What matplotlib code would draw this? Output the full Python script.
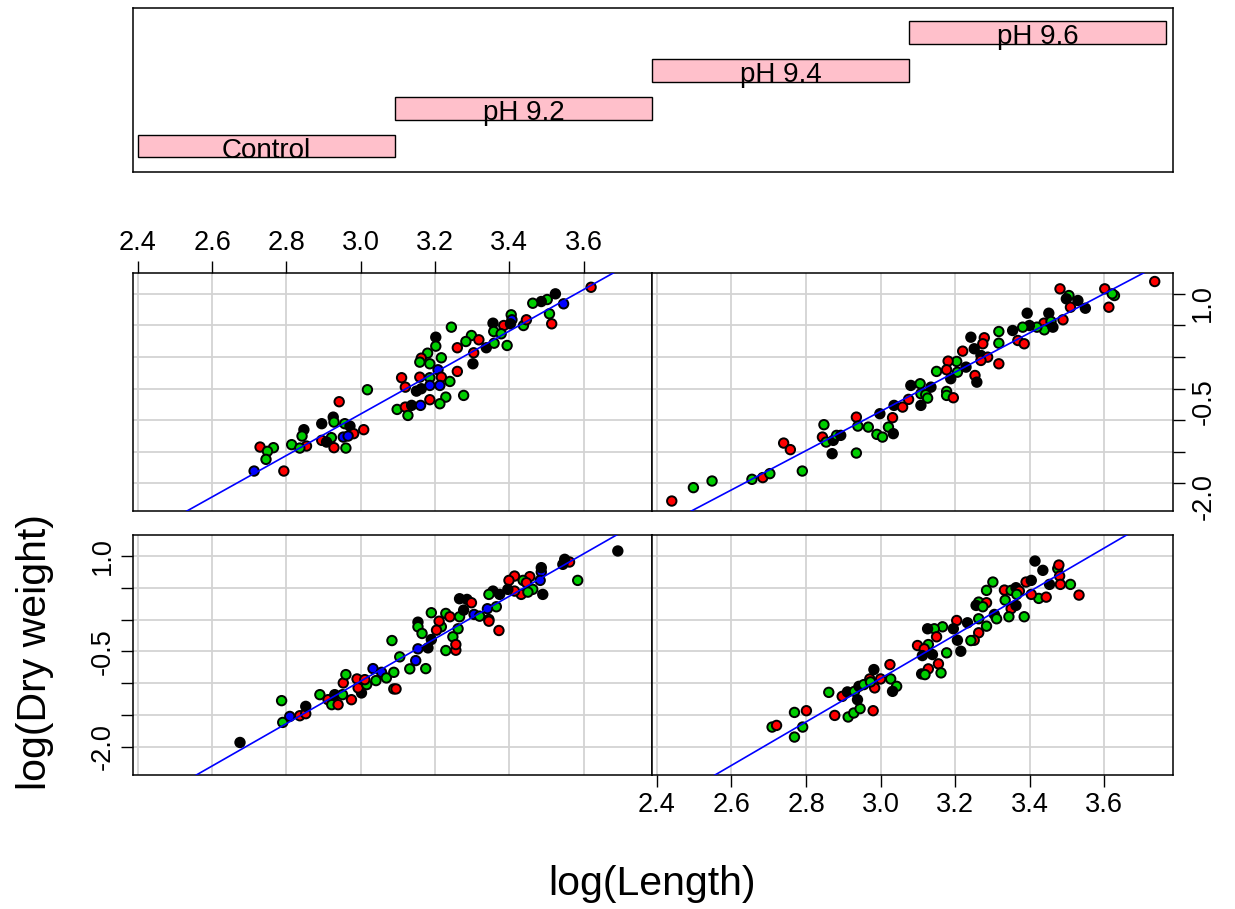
import matplotlib
matplotlib.use("Agg")
import matplotlib.pyplot as plt
import numpy as np

plt.rcParams['font.family'] = ['Liberation Sans', 'DejaVu Sans']

# conditioning factor
treatments = ["Control", "pH 9.2", "pH 9.4", "pH 9.6"]
given_lo = [0.5, 1.5, 2.5, 3.5]
given_hi = [1.5, 2.5, 3.5, 4.5]

# colour groups of the points
group_colours = {"K": "black", "R": "#FF0000", "G": "#00CD00", "B": "#0000FF"}

# Control (bottom-left panel)
x_control = [2.675, 2.790, 2.787, 2.809, 2.836, 2.852, 2.852, 2.890, 2.912, 2.922,
             2.939, 2.930, 2.951, 2.953, 2.960, 2.975, 2.990, 3.002, 2.993, 3.016,
             3.033, 3.041, 3.056, 3.069, 3.011,
             3.692, 3.584, 3.562, 3.549, 3.544, 3.486, 3.486, 3.455, 3.437, 3.414,
             3.399, 3.446, 3.463, 3.490, 3.432, 3.450, 3.483, 3.414, 3.396, 3.356,
             3.374, 3.345, 3.286, 3.266, 3.298, 3.365, 3.341, 3.305, 3.320, 3.345,
             3.345, 3.372, 3.190, 3.229, 3.240, 3.266, 3.277, 3.217, 3.211, 3.204,
             3.154, 3.154, 3.165, 3.190, 3.181, 3.154, 3.248, 3.262, 3.229, 3.256,
             3.256, 3.105, 3.148, 3.132, 3.175, 3.084, 3.089, 3.089, 3.095]
y_control = [-1.929, -1.614, -1.272, -1.520, -1.509, -1.477, -1.362, -1.178, -1.257, -1.335,
             -1.335, -1.178, -1.178, -0.994, -0.863, -1.257, -0.931, -1.151, -1.072, -1.020,
             -0.769, -0.957, -0.827, -0.915, -0.942,
             1.079, 0.617, 0.906, 0.948, 0.869, 0.748, 0.817, 0.676, 0.617, 0.685,
             0.617, 0.581, 0.476, 0.397, 0.397, 0.433, 0.617, 0.449, 0.476, 0.449,
             0.397, 0.397, 0.318, 0.329, 0.266, 0.203, 0.172, 0.082, 0.055, 0.003,
             -0.024, -0.170, 0.109, 0.098, 0.046, 0.046, 0.150, -0.112, -0.024, -0.165,
             -0.039, -0.112, -0.217, -0.312, -0.443, -0.458, -0.269, -0.143, -0.485, -0.480,
             -0.391, -0.584, -0.643, -0.773, -0.769, -0.328, -0.827, -1.088, -1.088]
g_control = list("KGGBRRKGRGRKGRGRRKRGBGBGR"
                 "KGRKKBKRGRRRGKRGBRKKKGKKRGBBGGRRGGRGKGRRKGGKKBGGGRRGBGGGGGR")

# pH 9.2 (bottom-right panel)
x_ph92 = [2.709, 2.721, 2.769, 2.801, 2.791, 2.769, 2.877, 2.861, 2.913, 2.928,
          2.945, 2.980, 2.897, 2.911, 2.930, 2.938, 2.942, 2.955, 2.971, 2.982,
          2.984, 3.000, 2.973, 3.025, 3.027, 3.043, 3.032, 3.110,
          3.414, 3.435, 3.475, 3.478, 3.480, 3.453, 3.482, 3.509, 3.532, 3.390,
          3.404, 3.424, 3.444, 3.301, 3.284, 3.332, 3.350, 3.363, 3.372, 3.365,
          3.404, 3.334, 3.263, 3.284, 3.256, 3.274, 3.305, 3.350, 3.363, 3.344,
          3.385, 3.311, 3.263, 3.284, 3.263, 3.251, 3.242, 3.233, 3.204, 3.195,
          3.166, 3.144, 3.126, 3.150, 3.206, 3.215, 3.177, 3.128, 3.099, 3.117,
          3.139, 3.112, 3.155, 3.128, 3.119, 3.162]
y_ph92 = [-1.687, -1.661, -1.457, -1.430, -1.687, -1.844, -1.504, -1.142, -1.529, -1.466,
          -1.398, -1.430, -1.205, -1.135, -1.126, -1.257, -1.047, -1.020, -0.931, -0.784,
          -1.072, -0.931, -0.978, -0.706, -0.931, -1.047, -1.126, -0.852,
          0.921, 0.775, 0.802, 0.858, 0.685, 0.554, 0.554, 0.554, 0.386, 0.591,
          0.617, 0.334, 0.354, 0.591, 0.460, 0.465, 0.460, 0.502, 0.449, 0.397,
          0.397, 0.307, 0.276, 0.266, 0.224, 0.203, 0.082, 0.172, 0.224, 0.046,
          0.046, 0.014, 0.014, -0.102, -0.206, -0.323, -0.328, -0.049, -0.013, -0.143,
          -0.112, -0.143, -0.143, -0.269, -0.323, -0.496, -0.521, -0.391, -0.406, -0.458,
          -0.548, -0.564, -0.694, -0.773, -0.863, -0.836]
g_ph92 = list("GRGRGGRGGGGRRKGKKGRKRRGRGGKK"
              "KKGRRKRGRRKGRGGRGKRGRGGRKGKRKGGGGGRRGKRKGGKRKKGGRRKKRRGG")

# pH 9.4 (top-left panel)
x_ph94 = [3.018, 2.942, 2.926, 2.895, 2.928, 2.957, 2.971, 3.008, 2.981, 2.847,
          2.842, 2.953, 2.966, 2.921, 2.895, 2.908, 2.814, 2.854, 2.836, 2.928,
          2.960, 2.729, 2.765, 2.749, 2.745, 2.713, 2.793,
          3.620, 3.524, 3.502, 3.486, 3.463, 3.546, 3.508, 3.514, 3.405, 3.407,
          3.356, 3.385, 3.403, 3.438, 3.446, 3.358, 3.378, 3.338, 3.394, 3.244,
          3.202, 3.202, 3.298, 3.283, 3.318, 3.260, 3.304, 3.359, 3.302, 3.260,
          3.217, 3.180, 3.163, 3.159, 3.186, 3.208, 3.110, 3.217, 3.159, 3.186,
          3.240, 3.120, 3.150, 3.163, 3.186, 3.213, 3.186, 3.229, 3.213, 3.277,
          3.098, 3.120, 3.137, 3.161, 3.127]
y_ph94 = [-0.519, -0.709, -0.953, -1.057, -1.032, -1.057, -1.095, -1.152, -1.215, -1.152,
          -1.253, -1.269, -1.253, -1.278, -1.321, -1.348, -1.389, -1.411, -1.443, -1.437,
          -1.443, -1.427, -1.437, -1.495, -1.622, -1.807, -1.807,
          1.104, 1.000, 0.910, 0.878, 0.851, 0.842, 0.684, 0.525, 0.668, 0.589,
          0.535, 0.498, 0.525, 0.498, 0.589, 0.403, 0.367, 0.146, 0.182, 0.472,
          0.313, 0.171, 0.340, 0.245, 0.272, 0.146, 0.066, 0.218, -0.108, -0.229,
          -0.013, 0.060, -0.019, -0.082, -0.108, -0.203, -0.329, -0.320, -0.320, -0.329,
          -0.388, -0.478, -0.541, -0.503, -0.451, -0.451, -0.677, -0.636, -0.741, -0.609,
          -0.831, -0.794, -0.767, -0.767, -0.926]
g_ph94 = list("GRKKGGKRRKGBBGRKGRGRGRGGGBR"
              "RKGKGBGRGBKRKGRGGKGGKGGGRRRGKRGGRGGBRRRGGRKKBBRGGGGRKBG")

# pH 9.6 (top-right panel)
x_ph96 = [2.440, 2.498, 2.548, 2.655, 2.684, 2.703, 2.790, 2.740, 2.758, 2.870,
          2.935, 2.848, 2.844, 2.854, 2.873, 2.882, 2.893, 2.935, 2.939, 2.967,
          2.998, 3.032, 2.990, 3.005, 3.021, 3.034, 3.036, 3.059, 3.075, 3.081,
          3.106, 3.108, 3.108,
          3.481, 3.505, 3.498, 3.529, 3.509, 3.549, 3.601, 3.627, 3.621, 3.612,
          3.735, 3.393, 3.451, 3.489, 3.438, 3.457, 3.439, 3.462, 3.419, 3.399,
          3.381, 3.354, 3.368, 3.385, 3.317, 3.317, 3.242, 3.278, 3.274, 3.251,
          3.220, 3.269, 3.287, 3.269, 3.317, 3.204, 3.181, 3.206, 3.177, 3.229,
          3.150, 3.188, 3.253, 3.258, 3.135, 3.121, 3.126, 3.177, 3.177, 3.195]
y_ph96 = [-2.282, -2.070, -1.965, -1.938, -1.911, -1.848, -1.807, -1.364, -1.468, -1.532,
          -1.522, -1.073, -1.269, -1.348, -1.321, -1.242, -1.242, -0.953, -1.095, -1.111,
          -0.899, -0.962, -1.226, -1.269, -1.111, -1.215, -0.767, -0.794, -0.672, -0.451,
          -0.424, -0.767, -0.582,
          1.079, 0.973, 0.921, 0.894, 0.788, 0.772, 1.079, 0.973, 1.000, 0.788,
          1.195, 0.693, 0.693, 0.589, 0.535, 0.562, 0.430, 0.472, 0.472, 0.498,
          0.472, 0.419, 0.261, 0.209, 0.403, 0.218, 0.313, 0.304, 0.209, 0.130,
          0.092, 0.024, -0.003, -0.055, -0.108, -0.071, -0.066, -0.241, -0.203, -0.161,
          -0.229, -0.345, -0.293, -0.399, -0.478, -0.598, -0.652, -0.546, -0.609, -0.646]
g_ph96 = list("RGGGRGGRRKGGRGKGKRGGKRGGGKKRRKGKG"
              "RGKKRKRGGRRKKRRGGKGKGKRRGGKRRKRKRRRGRGRKGKRKKGGGGR")

# least-squares lines drawn in each panel
fit_intercept = [-10.964, -11.171, -10.758, -10.192]
fit_slope = [3.333, 3.416, 3.285, 3.110]

x_ticks = [2.4, 2.6, 2.8, 3.0, 3.2, 3.4, 3.6]
y_ticks = [-2.0, -1.5, -1.0, -0.5, 0.0, 0.5, 1.0]
y_tick_labels = ["-2.0", "", "", "-0.5", "", "", "1.0"]

W, H = 1235, 909
fig = plt.figure(figsize=(W / 100, H / 100), dpi=100)


def box(left, top, right, bottom):
    return fig.add_axes([left / W, 1 - bottom / H, (right - left) / W, (bottom - top) / H])


TICK_FS = 19.5
LAB_FS = 29.5

# given panel on top
axg = box(133, 8, 1173, 172)
axg.barh(range(1, 5), np.array(given_hi) - np.array(given_lo), left=given_lo, height=0.6,
         color="#FFC0CB", edgecolor="black", linewidth=1.0)
for i, name in enumerate(treatments):
    axg.text((given_lo[i] + given_hi[i]) / 2, i + 1 - 0.12, name, ha="center", va="center",
             fontsize=20)
axg.set_xlim(0.48, 4.527)
axg.set_ylim(0.316, 4.645)
axg.set_xticks([])
axg.set_yticks([])
for s in axg.spines.values():
    s.set_linewidth(1.1)

panels = [
    (x_control, y_control, g_control, (133, 535, 652, 775)),
    (x_ph92, y_ph92, g_ph92, (652, 535, 1173, 775)),
    (x_ph94, y_ph94, g_ph94, (133, 273, 652, 511)),
    (x_ph96, y_ph96, g_ph96, (652, 273, 1173, 511)),
]

xl = np.array([2.387, 3.784])
for k, (xs, ys, gs, pos) in enumerate(panels):
    ax = box(*pos)
    ax.set_xlim(*xl)
    ax.set_ylim(-2.44, 1.33)
    for v in x_ticks:
        ax.axvline(v, color="#D3D3D3", lw=1.3, zorder=0)
    for v in y_ticks:
        ax.axhline(v, color="#D3D3D3", lw=1.3, zorder=0)
    cols = [group_colours[g] for g in gs]
    ax.scatter(xs, ys, s=46, c=cols, edgecolors="black", linewidths=1.4, zorder=3)
    ax.plot(xl, fit_intercept[k] + fit_slope[k] * xl, color="#0000FF", lw=1.2, zorder=4)
    for s in ax.spines.values():
        s.set_linewidth(1.1)
    ax.tick_params(length=8.5, width=1.0, labelsize=TICK_FS, pad=4)

    ax.set_xticks(x_ticks)
    ax.set_xticklabels(["%.1f" % v for v in x_ticks])
    ax.set_yticks(y_ticks)
    ax.set_yticklabels(y_tick_labels)
    ax.tick_params(axis="y", labelrotation=90)
    for lab in ax.get_yticklabels():
        lab.set_va("center")

    if k == 0:      # bottom-left: y axis on the left
        ax.tick_params(bottom=False, labelbottom=False)
    elif k == 1:    # bottom-right: x axis at the bottom
        ax.tick_params(left=False, labelleft=False)
    elif k == 2:    # top-left: x axis on top
        ax.tick_params(bottom=False, labelbottom=False, left=False, labelleft=False,
                       top=True, labeltop=True)
    else:           # top-right: y axis on the right
        ax.tick_params(bottom=False, labelbottom=False, left=False, labelleft=False,
                       right=True, labelright=True)

fig.text(652 / W, 1 - 884 / H, "log(Length)", ha="center", va="center", fontsize=LAB_FS)
fig.text(35 / W, 1 - 652 / H, "log(Dry weight)", ha="center", va="center",
         rotation=90, fontsize=LAB_FS)

fig.savefig("out.png", dpi=100)
